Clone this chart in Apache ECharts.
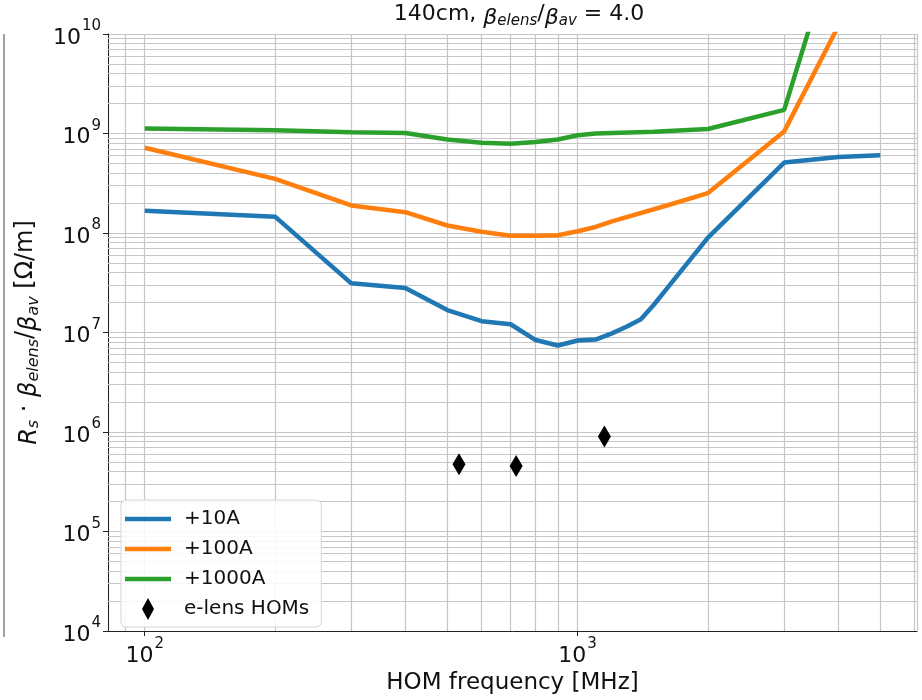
<!DOCTYPE html>
<html>
<head>
<meta charset="utf-8">
<script src="https://cdn.jsdelivr.net/npm/echarts@6/dist/echarts.min.js"></script>
<style>
html, body { margin: 0; padding: 0; background: #fff; }
#chart { width: 922px; height: 700px; }
</style>
</head>
<body>
<div id="chart"></div>
<script>
// values (MHz, Ohm/m)
var freq10 = [100, 200, 300, 400, 500, 600, 700, 800, 900, 1000, 1100, 1200, 1300, 1400, 1500, 1600, 2000, 3000, 4000, 5000];
var imp10 = [1.67e8, 1.46e8, 3.12e7, 2.8e7, 1.68e7, 1.3e7, 1.21e7, 8.4e6, 7.4e6, 8.3e6, 8.5e6, 9.8e6, 1.15e7, 1.36e7, 1.9e7, 2.7e7, 9.0e7, 5.1e8, 5.8e8, 6.05e8];

var freq100 = [100, 200, 300, 400, 500, 600, 700, 800, 900, 1000, 1100, 1200, 1600, 2000, 3000, 4000];
var imp100 = [7.2e8, 3.5e8, 1.89e8, 1.62e8, 1.19e8, 1.03e8, 9.4e7, 9.4e7, 9.5e7, 1.04e8, 1.15e8, 1.31e8, 1.88e8, 2.52e8, 1.05e9, 1.2e10];

var freq1000 = [100, 200, 300, 400, 500, 600, 700, 800, 900, 1000, 1100, 1500, 2000, 3000, 4000];
var imp1000 = [1.12e9, 1.08e9, 1.03e9, 1.01e9, 8.7e8, 8.06e8, 7.9e8, 8.2e8, 8.7e8, 9.6e8, 1.0e9, 1.04e9, 1.11e9, 1.73e9, 1.0e11];

var homFreq = [532, 721, 1153];
var homImp = [4.73e5, 4.55e5, 9.0e5];

function pairs(xs, ys) {
  return xs.map(function (x, i) { return [x, ys[i]]; });
}

// minor grid positions, 2..9 per decade like matplotlib
var minorX = [];
[10, 100, 1000].forEach(function (d) {
  for (var k = 2; k <= 9; k++) {
    var v = k * d;
    if (v > 82.25 && v < 6080) minorX.push(v);
  }
});
var minorY = [];
[1e4, 1e5, 1e6, 1e7, 1e8, 1e9].forEach(function (d) {
  for (var k = 2; k <= 9; k++) minorY.push(k * d);
});

var gridColor = '#c6c6c6';
var font = 'DejaVu Sans';
var lineIcon = 'path://M0,0 L46,0 L46,4.5 L0,4.5 Z';
var diamondIcon = 'path://M6,0 L12,11 L6,22 L0,11 Z';

function powLabel(v) {
  var e = Math.log10(v);
  if (Math.abs(e - Math.round(e)) > 1e-6) return '';
  return '{b|10}{s|' + Math.round(e) + '}';
}
var powRich = {
  b: { fontSize: 22, fontFamily: font, color: '#111', lineHeight: 30, verticalAlign: 'bottom' },
  s: { fontSize: 15, fontFamily: font, color: '#111', lineHeight: 30, verticalAlign: 'top', padding: [0, 0, 0, 1] }
};

var chartDom = document.getElementById('chart');
var myChart = echarts.init(chartDom);
var option;

option = {
  animation: false,
  backgroundColor: '#fff',
  title: {
    text: '140cm, {i|β}{sub|elens}/{i|β}{sub|av} = 4.0',
    left: 514,
    textAlign: 'center',
    top: -6,
    textStyle: {
      fontFamily: font, fontSize: 22, fontWeight: 'normal', color: '#111',
      rich: {
        i: { fontFamily: font, fontSize: 22, fontStyle: 'italic', color: '#111', lineHeight: 30, verticalAlign: 'bottom' },
        sub: { fontFamily: font, fontSize: 15, fontStyle: 'italic', color: '#111', lineHeight: 26, verticalAlign: 'bottom' }
      }
    }
  },
  grid: { left: 108, right: 5, top: 34, bottom: 63, containLabel: false },
  legend: {
    orient: 'vertical',
    left: 121,
    top: 500,
    itemWidth: 46,
    itemHeight: 22,
    itemGap: 8,
    padding: [8, 12, 7, 4],
    backgroundColor: 'rgba(255,255,255,0.85)',
    borderColor: '#d6d6d6',
    borderWidth: 1,
    borderRadius: 5,
    z: 10,
    textStyle: { fontFamily: font, fontSize: 20, color: '#111', padding: [0, 0, 0, 8], lineHeight: 22 },
    data: [
      { name: '+10A', icon: lineIcon },
      { name: '+100A', icon: lineIcon },
      { name: '+1000A', icon: lineIcon },
      { name: 'e-lens HOMs', icon: diamondIcon, itemStyle: { color: '#000', opacity: 1 } }
    ]
  },
  xAxis: {
    type: 'log',
    logBase: 10,
    min: 82.25,
    max: 6080,
    name: 'HOM frequency [MHz]',
    nameLocation: 'middle',
    nameGap: 41,
    nameTextStyle: { fontFamily: font, fontSize: 23, color: '#111' },
    axisLine: { show: true, onZero: false, lineStyle: { color: '#222', width: 1 } },
    axisTick: { show: true, inside: false, length: 5, lineStyle: { color: '#222' } },
    axisLabel: { formatter: powLabel, rich: powRich, margin: 6, showMinLabel: false, showMaxLabel: false },
    splitLine: { show: true, lineStyle: { color: gridColor, width: 1.2 } }
  },
  yAxis: {
    type: 'log',
    logBase: 10,
    min: 1e4,
    max: 1e10,
    splitNumber: 6,
    name: '{i|R}{sub|s} · {i|β}{sub|elens}/{i|β}{sub|av} [Ω/m]',
    nameLocation: 'middle',
    nameRotate: 90,
    nameGap: 66,
    nameTextStyle: {
      fontFamily: font, fontSize: 24, color: '#111',
      rich: {
        i: { fontFamily: font, fontSize: 24, fontStyle: 'italic', color: '#111', lineHeight: 32, verticalAlign: 'bottom' },
        sub: { fontFamily: font, fontSize: 16, fontStyle: 'italic', color: '#111', lineHeight: 27, verticalAlign: 'bottom' }
      }
    },
    axisLine: { show: true, lineStyle: { color: '#222', width: 1 } },
    axisTick: { show: true, inside: false, length: 5, lineStyle: { color: '#222' } },
    axisLabel: { formatter: powLabel, rich: powRich, margin: 7 },
    splitLine: { show: true, lineStyle: { color: gridColor, width: 1.2 } }
  },
  graphic: [
    // edge of the neighbouring panel
    { type: 'line', shape: { x1: 4, y1: 34, x2: 4, y2: 637 }, style: { stroke: '#444', lineWidth: 1 } }
  ],
  series: [
    {
      name: 'grid',
      type: 'line',
      data: [],
      silent: true,
      z: 1,
      markLine: {
        silent: true,
        z: 1,
        symbol: 'none',
        label: { show: false },
        animation: false,
        emphasis: { disabled: true },
        lineStyle: { color: gridColor, width: 1.2, type: 'solid' },
        data: minorX.map(function (v) { return { xAxis: v }; })
          .concat(minorY.map(function (v) { return { yAxis: v }; }))
      }
    },
    {
      name: '+10A',
      type: 'line',
      data: pairs(freq10, imp10),
      symbol: 'none',
      symbolKeepAspect: true,
      color: '#1f77b4',
      lineStyle: { width: 4.5, color: '#1f77b4' },
      clip: true,
      z: 3
    },
    {
      name: '+100A',
      type: 'line',
      data: pairs(freq100, imp100),
      symbol: 'none',
      symbolKeepAspect: true,
      color: '#ff7f0e',
      lineStyle: { width: 4.5, color: '#ff7f0e' },
      clip: true,
      z: 3
    },
    {
      name: '+1000A',
      type: 'line',
      data: pairs(freq1000, imp1000),
      symbol: 'none',
      symbolKeepAspect: true,
      color: '#2ca02c',
      lineStyle: { width: 4.5, color: '#2ca02c' },
      clip: true,
      z: 3
    },
    {
      name: 'e-lens HOMs',
      type: 'scatter',
      data: pairs(homFreq, homImp),
      symbol: 'diamond',
      symbolSize: [13, 22],
      itemStyle: { color: '#000', opacity: 1 },
      z: 4
    }
  ]
};

if (option && typeof option === 'object') {
  myChart.setOption(option);
}
</script>
</body>
</html>
